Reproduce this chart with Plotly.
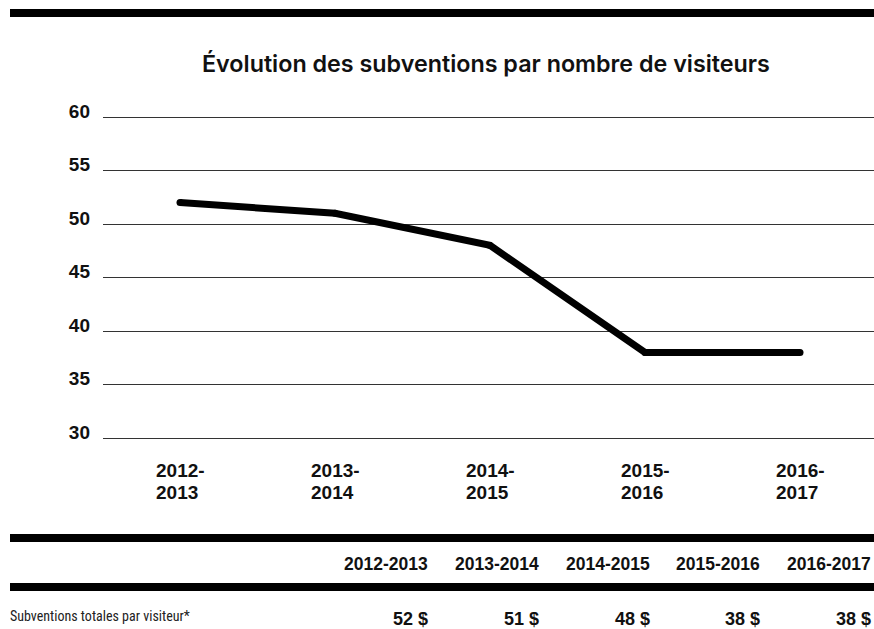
import plotly.graph_objects as go

# ---- data ----
periods = ["2012-2013", "2013-2014", "2014-2015", "2015-2016", "2016-2017"]
subsidy_per_visitor = [52, 51, 48, 38, 38]
y_ticks = [30, 35, 40, 45, 50, 55, 60]
title_text = "Évolution des subventions par nombre de visiteurs"
row_label = "Subventions totales par visiteur*"

# ---- layout geometry (page pixels) ----
W, H = 874, 629
PAD = 2
PL, PR, PT, PB = 103, 874, 117 - PAD, 438 + PAD  # plot area edges
Y_PER_UNIT = (438 - 117) / (60 - 30)
y_pad_units = PAD / Y_PER_UNIT
X_STEP = 155
X_FIRST = 180


def px(x):
    return (x - PL) / (PR - PL)


def py(y):
    return (PB - y) / (PB - PT)


BOLD = "Liberation Sans, Arial, sans-serif"
INK = "#111111"

fig = go.Figure()
fig.add_trace(go.Scatter(
    x=list(range(len(periods))),
    y=subsidy_per_visitor,
    mode="lines+markers",
    line=dict(color="black", width=7),
    marker=dict(color="black", size=7),
    hoverinfo="skip",
    showlegend=False,
))

shapes = []
for y0, y1 in [(9, 17), (534, 542), (583, 591)]:
    shapes.append(dict(type="rect", xref="paper", yref="paper",
                       x0=px(10), x1=px(880), y0=py(y0), y1=py(y1),
                       fillcolor="black", line=dict(width=0), layer="above"))

annotations = []
annotations.append(dict(text=title_text, xref="paper", yref="paper",
                        x=px(486), y=py(64), xanchor="center", yanchor="middle",
                        showarrow=False,
                        font=dict(family="Inter, sans-serif", size=23.3, weight=600, color=INK)))
# two-line category labels, left aligned
for i, p in enumerate(periods):
    first, second = p.split("-")
    for txt, yc in [(first + "-", 470), (second, 492)]:
        annotations.append(dict(text=txt, xref="x", yref="paper", x=i, y=py(yc),
                                xanchor="left", yanchor="middle", xshift=-26,
                                showarrow=False,
                                font=dict(family=BOLD, size=19, weight="bold", color=INK)))

col_right = [430, 541, 652, 762, 873]
for p, v, xr in zip(periods, subsidy_per_visitor, col_right):
    annotations.append(dict(text=p, xref="paper", yref="paper",
                            x=px(xr), y=py(564), xanchor="right", yanchor="middle",
                            showarrow=False,
                            font=dict(family=BOLD, size=17.5, weight="bold", color=INK)))
    annotations.append(dict(text=f"{v} $", xref="paper", yref="paper",
                            x=px(xr), y=py(619), xanchor="right", yanchor="middle",
                            showarrow=False,
                            font=dict(family=BOLD, size=18, weight="bold", color=INK)))
annotations.append(dict(text=row_label, xref="paper", yref="paper",
                        x=px(8), y=py(616), xanchor="left", yanchor="middle",
                        showarrow=False,
                        font=dict(family="Liberation Sans Narrow, Roboto Condensed, Liberation Sans, sans-serif",
                                  size=14, color="#222222")))

fig.update_layout(
    width=W, height=H,
    margin=dict(l=PL, r=W - PR, t=PT, b=H - PB, pad=0),
    paper_bgcolor="white", plot_bgcolor="white",
    showlegend=False,
    hovermode=False,
    shapes=shapes,
    annotations=annotations,
    xaxis=dict(range=[-(X_FIRST - PL) / X_STEP, 4 + (PR - (X_FIRST + 4 * X_STEP)) / X_STEP],
               showgrid=False, zeroline=False,
               showticklabels=False, showline=False, fixedrange=True),
    yaxis=dict(range=[30 - y_pad_units, 60 + y_pad_units], tickvals=y_ticks,
               ticktext=[str(t) for t in y_ticks],
               showgrid=True, gridcolor="#333333", gridwidth=1,
               zeroline=False, showline=False, ticks="",
               ticklabelstandoff=12, ticklabelshift=-6,
               tickfont=dict(family=BOLD, size=19, weight="bold", color=INK), fixedrange=True),
)

fig.write_html(
    "out.html",
    config={"displayModeBar": False, "staticPlot": True},
    post_script="document.body.style.margin='0';document.documentElement.style.overflow='hidden';",
)
